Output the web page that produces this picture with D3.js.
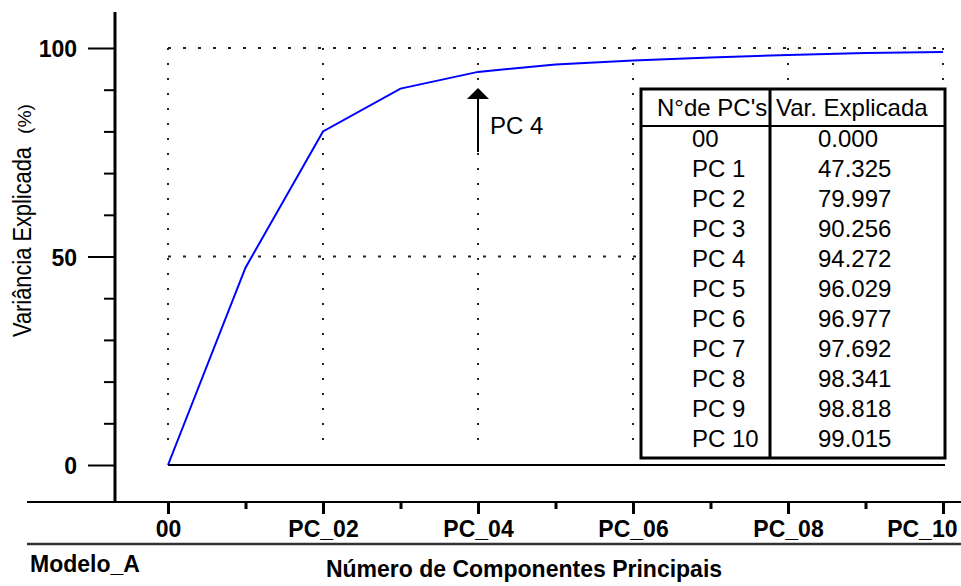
<!DOCTYPE html>
<html>
<head>
<meta charset="utf-8">
<script src="https://cdn.jsdelivr.net/npm/d3@7"></script>
<style>
  body { margin: 0; background: #fff; }
  svg { display: block; font-family: "Liberation Sans", Arial, sans-serif; }
</style>
</head>
<body>
<svg id="chart" width="961" height="586"></svg>
<script>
// ========== DATA ==========

const componentes = ["00", "PC 1", "PC 2", "PC 3", "PC 4", "PC 5", "PC 6", "PC 7", "PC 8", "PC 9", "PC 10"];
const varExplicada = [0.000, 47.325, 79.997, 90.256, 94.272, 96.029, 96.977, 97.692, 98.341, 98.818, 99.015];
const xTickValues = [0, 2, 4, 6, 8, 10];
const xTickLabels = ["00", "PC_02", "PC_04", "PC_06", "PC_08", "PC_10"];
const yMajorTicks = [0, 50, 100];
const yMinorTicks = [10, 20, 30, 40, 60, 70, 80, 90];
const destaque = 4;   // PC 4 arrow

// ========== MAIN CODE ==========

const svg = d3.select("#chart");

const x = d3.scaleLinear().domain([0, 10]).range([168, 943]);
const y = d3.scaleLinear().domain([0, 100]).range([465, 48]);

// dotted grid
const grid = svg.append("g")
    .attr("stroke", "#222")
    .attr("stroke-width", 2);

grid.selectAll("line.h")
    .data([50, 100])
    .enter().append("line")
    .attr("class", "h")
    .attr("x1", x(0)).attr("x2", x(10))
    .attr("y1", d => y(d)).attr("y2", d => y(d))
    .attr("stroke-dasharray", "3,12");

grid.selectAll("line.v")
    .data(xTickValues)
    .enter().append("line")
    .attr("class", "v")
    .attr("x1", d => x(d)).attr("x2", d => x(d))
    .attr("y1", y(100)).attr("y2", y(3))
    .attr("stroke-dasharray", "2,13");

// zero line
svg.append("line")
    .attr("x1", x(0)).attr("x2", x(10) + 2)
    .attr("y1", y(0)).attr("y2", y(0))
    .attr("stroke", "#000")
    .attr("stroke-width", 2);

// Y axis
svg.append("line")
    .attr("x1", 115).attr("x2", 115)
    .attr("y1", 12).attr("y2", 502)
    .attr("stroke", "#000").attr("stroke-width", 3);

const yMinor = svg.append("g")
    .attr("transform", "translate(115,0)")
    .call(d3.axisLeft(y).tickValues(yMinorTicks).tickSize(11).tickFormat(""));

const yMajor = svg.append("g")
    .attr("transform", "translate(115,0)")
    .call(d3.axisLeft(y).tickValues(yMajorTicks).tickSize(27).tickPadding(11));

[yMinor, yMajor].forEach(g => {
    g.select(".domain").remove();
    g.selectAll("line").attr("stroke", "#000").attr("stroke-width", 2);
});
yMajor.selectAll("text")
    .attr("dy", "0.38em")
    .style("font-size", "23px")
    .style("font-weight", "bold")
    .attr("fill", "#000");

// X axis
svg.append("line")
    .attr("x1", 27).attr("x2", 961)
    .attr("y1", 502).attr("y2", 502)
    .attr("stroke", "#000").attr("stroke-width", 2);

svg.append("line")
    .attr("x1", 27).attr("x2", 961)
    .attr("y1", 544).attr("y2", 544)
    .attr("stroke", "#333").attr("stroke-width", 2.5);

const xMinor = svg.append("g")
    .attr("transform", "translate(0,502)")
    .call(d3.axisBottom(x).tickValues([1, 3, 5, 7, 9]).tickSize(7).tickFormat(""));

const xMajor = svg.append("g")
    .attr("transform", "translate(0,502)")
    .call(d3.axisBottom(x).tickValues(xTickValues).tickSize(12).tickPadding(7)
        .tickFormat((d, i) => xTickLabels[i]));

[xMinor, xMajor].forEach(g => {
    g.select(".domain").remove();
    g.selectAll("line").attr("stroke", "#000").attr("stroke-width", 3);
});
xMajor.selectAll("text")
    .style("font-size", "23px")
    .style("font-weight", "bold")
    .attr("fill", "#000");
// last label is pushed left so it stays inside the window
xMajor.selectAll("text")
    .filter(d => d === 10)
    .attr("text-anchor", "end")
    .attr("x", 14);

// axis titles
const yTitle = svg.append("text")
    .attr("transform", "translate(31,337) rotate(-90)")
    .attr("fill", "#000");
yTitle.append("tspan")
    .style("font-size", "25px")
    .attr("textLength", 190)
    .attr("lengthAdjust", "spacingAndGlyphs")
    .text("Variância Explicada");
yTitle.append("tspan")
    .attr("dx", 13)
    .style("font-size", "18px")
    .attr("textLength", 30)
    .attr("lengthAdjust", "spacingAndGlyphs")
    .text("(%)");

svg.append("text")
    .attr("x", 524).attr("y", 577)
    .attr("text-anchor", "middle")
    .style("font-size", "23px")
    .style("font-weight", "bold")
    .text("Número de Componentes Principais");

svg.append("text")
    .attr("x", 30).attr("y", 572)
    .style("font-size", "23px")
    .style("font-weight", "bold")
    .text("Modelo_A");

// curve
const line = d3.line()
    .x((d, i) => x(i))
    .y(d => y(d));

svg.append("path")
    .datum(varExplicada)
    .attr("d", line)
    .attr("fill", "none")
    .attr("stroke", "#0000ff")
    .attr("stroke-width", 2);

// arrow to PC 4
const ax = x(destaque);
const tip = y(varExplicada[destaque]) + 16;
svg.append("line")
    .attr("x1", ax).attr("x2", ax)
    .attr("y1", tip + 8).attr("y2", tip + 64)
    .attr("stroke", "#000").attr("stroke-width", 2);
svg.append("path")
    .attr("d", `M${ax},${tip} L${ax + 11},${tip + 11} L${ax - 11},${tip + 11} Z`)
    .attr("fill", "#000");
svg.append("text")
    .attr("x", ax + 12).attr("y", tip + 46)
    .style("font-size", "24px")
    .text(componentes[destaque]);

// table
const tbl = { x0: 641, x1: 945, xm: 770, y0: 89, yh: 126, y1: 458 };
const rowY = d3.scaleLinear().domain([0, 10]).range([147, 447]);

const table = svg.append("g");
table.append("rect")
    .attr("x", tbl.x0).attr("y", tbl.y0)
    .attr("width", tbl.x1 - tbl.x0).attr("height", tbl.y1 - tbl.y0)
    .attr("fill", "#fff")
    .attr("stroke", "#000").attr("stroke-width", 3);
table.append("line")
    .attr("x1", tbl.xm).attr("x2", tbl.xm)
    .attr("y1", tbl.y0).attr("y2", tbl.y1)
    .attr("stroke", "#000").attr("stroke-width", 3);
table.append("line")
    .attr("x1", tbl.x0).attr("x2", tbl.x1)
    .attr("y1", tbl.yh).attr("y2", tbl.yh)
    .attr("stroke", "#000").attr("stroke-width", 2);

table.append("text")
    .attr("x", 657).attr("y", 116)
    .style("font-size", "24px")
    .text("N°de PC's");
table.append("text")
    .attr("x", 776).attr("y", 116)
    .style("font-size", "24px")
    .text("Var. Explicada");

table.selectAll("text.pc")
    .data(componentes)
    .enter().append("text")
    .attr("class", "pc")
    .attr("x", 692)
    .attr("y", (d, i) => rowY(i))
    .style("font-size", "24px")
    .text(d => d);

table.selectAll("text.val")
    .data(varExplicada)
    .enter().append("text")
    .attr("class", "val")
    .attr("x", 818)
    .attr("y", (d, i) => rowY(i))
    .style("font-size", "24px")
    .text(d => d.toFixed(3));
</script>
</body>
</html>
